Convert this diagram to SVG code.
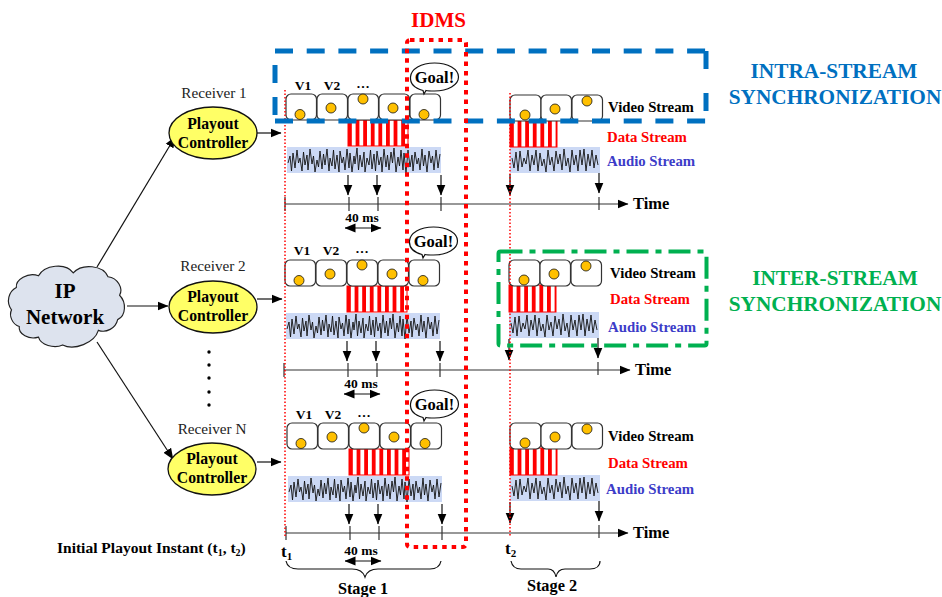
<svg xmlns="http://www.w3.org/2000/svg" xmlns:xlink="http://www.w3.org/1999/xlink" width="942" height="597" viewBox="0 0 942 597">
<style>
text{font-family:"Liberation Serif","Times New Roman",serif;font-weight:bold;fill:#000}
.m{text-anchor:middle}
.reg{font-weight:normal;fill:#222;font-size:15.2px}
.lab{font-size:14.8px}
.v{font-size:13.5px}
.ms{font-size:13.5px}
.pc{font-size:15.7px;text-anchor:middle}
.t{font-size:16.5px}
.s{font-size:16.3px}
.big{font-size:21.3px;text-anchor:middle;fill:#0070c0}
.fr{fill:#fff;stroke:#333;stroke-width:1.2}
.dot{fill:#ffc000;stroke:#111;stroke-width:.8}
.pl{fill:#ffff66;stroke:#111;stroke-width:1.3}
.ln{fill:none;stroke:#111;stroke-width:1.2}
.ax{fill:none;stroke:#333;stroke-width:1.2}
.nz{fill:none;stroke:#111;stroke-width:.9}
.bub{fill:#fff;stroke:#111;stroke-width:1.2}
.au{fill:#ccd9f5}
.ds{stroke:#f00;stroke-width:1}
</style>
<defs>
<pattern id="st" patternUnits="userSpaceOnUse" width="7.6" height="10" x="348" y="0"><rect width="7.6" height="10" fill="#fff"/><rect x="0" width="3.8" height="10" fill="#f00"/></pattern>
<pattern id="st2" patternUnits="userSpaceOnUse" width="7.6" height="10" x="510" y="0"><rect width="7.6" height="10" fill="#fff"/><rect x="0" width="3.8" height="10" fill="#f00"/></pattern>
<marker id="a" markerUnits="userSpaceOnUse" markerWidth="11" markerHeight="10" refX="10.500" refY="5" orient="auto"><path d="M0 .5L11 5L0 9.500z" fill="#000"/></marker>
<marker id="b" markerUnits="userSpaceOnUse" markerWidth="11" markerHeight="10" refX=".5" refY="5" orient="auto"><path d="M11 .5L0 5L11 9.500z" fill="#000"/></marker>
<g id="stage1">
<rect class="au" x="287" y="147" width="154" height="26"/>
<polyline class="nz" points="288,163 290,156 291.500,171 293,153 295,168 297,150 298.500,163 300,158 302,171 303.500,152 305,165 307,155 308,170 310,149 312,164 313.500,156 315,172 317,160 318.500,167 320,151 322,169 323.500,154 325,165 327,149 329,171 330,158 332,166 333.500,150 335,169 337,155 339,172 340,151 342,163 343.500,157 345,170 347,149 349,168 350,153 352,172 354,156 355,164 357,148 358.500,170 360,155 362,167 364,152 365,172 367,158 369,165 370.500,150 372,169 374,154 375.500,171 377,151 379,165 381,157 382,172 384,149 386,167 387.500,155 389,170 391,152 392.500,163 394,148 396,172 398,157 399.500,166 401,150 403,170 404,153 406,173 408,150 410,167 412,155 413,171 415,152 417,164 418.500,158 420,170 422,149 423.500,166 425,155 427,172 429,151 431,163 432.500,156 434,170 436,150 438,168 440,154"/>
<rect class="ds" style="fill:url(#st)" x="348" y="120" width="60" height="26"/>
<rect class="fr" x="286" y="94" width="30.500" height="26" rx="5"/><rect class="fr" x="317" y="94" width="30.500" height="26" rx="5"/><rect class="fr" x="348" y="94" width="30.500" height="26" rx="5"/><rect class="fr" x="379" y="94" width="30.500" height="26" rx="5"/><rect class="fr" x="410" y="94" width="30.500" height="26" rx="5"/>
<circle class="dot" cx="300" cy="114.500" r="5"/><circle class="dot" cx="331" cy="108" r="5"/><circle class="dot" cx="363" cy="99" r="5"/><circle class="dot" cx="393" cy="108" r="5"/><circle class="dot" cx="424" cy="114.500" r="5"/>
<path class="ln" d="M348 175V195" marker-end="url(#a)"/><path class="ln" d="M377 175V195" marker-end="url(#a)"/><path class="ln" d="M441 175V195" marker-end="url(#a)"/>
<path class="ax" d="M285 197V211M349 197V211M378 197V211M441 197V211"/>
</g>
<g id="stage2">
<rect class="au" x="510" y="147" width="90" height="26"/>
<polyline class="nz" points="512,158 514,168 516,152 518,171 520,151 522,167 524,158 526,164 528,150 530,171 532,155 534,165 536,150 538,171 540,153 542,166 544,159 546,172 548,150 550,165 552,157 554,171 556,151 558,164 560,154 562,170 564,149 566,166 568,158 570,172 572,150 574,165 576,155 578,171 580,150 582,165 584,149 586,171 588,154 590,166 592,150 594,168 596,155 598,165"/>
<rect class="ds" x="510" y="120" width="47" height="27" style="fill:url(#st2)"/>
<rect class="fr" x="510" y="95" width="31" height="26" rx="5"/><rect class="fr" x="541" y="95" width="30.500" height="26" rx="5"/><rect class="fr" x="572" y="95" width="30.500" height="26" rx="5"/>
<circle class="dot" cx="525" cy="115" r="5"/><circle class="dot" cx="555" cy="109" r="5"/><circle class="dot" cx="587" cy="101" r="5"/>
<path class="ln" d="M510 174V195" marker-end="url(#a)"/><path class="ln" d="M599 173V193" marker-end="url(#a)"/>
<path class="ax" d="M599 197V210"/>
</g>
<g id="bubble">
<path class="bub" d="M423 90.500C414 88 410 83 410.500 77C411 69 421 63 434.500 63C448 63 458.500 69 458.500 77C458.500 85 448 91 434.500 91C431 91 428 91 426 90.500L424 94z"/>
<text class="m" x="434.500" y="82.500" font-size="16.500">Goal!</text>
</g>
</defs>
<g id="connectors">
<path class="ln" d="M97 267L175 137" marker-end="url(#a)"/>
<path class="ln" d="M127 306H168" marker-end="url(#a)"/>
<path class="ln" d="M97 342L173 459" marker-end="url(#a)"/>
<path class="ln" d="M257 133H281" marker-end="url(#a)"/>
<path class="ln" d="M257 299H282" marker-end="url(#a)"/>
<path class="ln" d="M257 462H281" marker-end="url(#a)"/>
<path class="ax" d="M285 204H628" marker-end="url(#a)"/>
<path class="ax" d="M284 370H630" marker-end="url(#a)"/>
<path class="ax" d="M286 533H628" marker-end="url(#a)"/>
</g>
<g id="row1"><use xlink:href="#stage1"/><use xlink:href="#stage2"/><use xlink:href="#bubble"/>
<text class="m v" x="303" y="90">V1</text><text class="m v" x="332" y="90">V2</text><text class="m v" x="363" y="88">…</text>
<text class="m ms" x="362" y="222">40 ms</text><path class="ln" d="M345 228H381" marker-start="url(#b)" marker-end="url(#a)"/>
<text class="lab" x="608" y="111.500">Video Stream</text><text class="lab" x="607" y="142" style="fill:#f00">Data Stream</text><text class="lab" x="607" y="166" style="fill:#3c3cc8">Audio Stream</text><text class="t" x="633" y="209">Time</text>
</g>
<g id="row2"><use xlink:href="#stage1" transform="translate(-1 166)"/><use xlink:href="#stage2" transform="translate(-1 165)"/><use xlink:href="#bubble" transform="translate(-1 164)"/>
<text class="m v" x="302" y="255">V1</text><text class="m v" x="331" y="255">V2</text><text class="m v" x="362" y="253">…</text>
<text class="m ms" x="361" y="388">40 ms</text><path class="ln" d="M344 394H380" marker-start="url(#b)" marker-end="url(#a)"/>
<text class="lab" x="610" y="278">Video Stream</text><text class="lab" x="610" y="304" style="fill:#f00">Data Stream</text><text class="lab" x="608" y="332" style="fill:#3c3cc8">Audio Stream</text><text class="t" x="635" y="375">Time</text>
</g>
<g id="row3"><use xlink:href="#stage1" transform="translate(1 329)"/><use xlink:href="#stage2" transform="translate(0 328)"/><use xlink:href="#bubble" transform="translate(0 327)"/>
<text class="m v" x="304" y="419">V1</text><text class="m v" x="333" y="419">V2</text><text class="m v" x="364" y="417">…</text>
<text class="m ms" x="361" y="555">40 ms</text><path class="ln" d="M345 561H381" marker-start="url(#b)" marker-end="url(#a)"/>
<text class="lab" x="608" y="441">Video Stream</text><text class="lab" x="608" y="468" style="fill:#f00">Data Stream</text><text class="lab" x="606" y="494" style="fill:#3c3cc8">Audio Stream</text><text class="t" x="633" y="538">Time</text>
</g>
<g id="cloud">
<path transform="translate(67 305) scale(.965 .975) translate(-67.500 -305)" d="M10 310C4 302 7 291 15 287C14 279 27 271 38 275C44 264 66 261 74 272C83 262 105 264 110 276C120 277 126 288 122 295C129 302 129 316 120 320C118 329 108 334 100 331C96 344 75 352 63 346C54 350 40 346 38 338C28 341 17 335 18 327C11 325 7 316 10 310z" fill="#dde3ee" stroke="#222" stroke-width="1.200"/>
<text class="m" x="65" y="298" font-size="21">IP</text><text class="m" x="65" y="324" font-size="21">Network</text>
</g>
<g id="controller1"><ellipse class="pl" cx="213" cy="133" rx="44" ry="26"/><text class="pc" x="213" y="129">Playout</text><text class="pc" x="213" y="148">Controller</text><text class="m reg" x="214" y="98">Receiver 1</text></g>
<g id="controller2"><ellipse class="pl" cx="213" cy="307" rx="44" ry="26"/><text class="pc" x="213" y="302">Playout</text><text class="pc" x="213" y="321">Controller</text><text class="m reg" x="213" y="271">Receiver 2</text></g>
<g id="controllerN"><ellipse class="pl" cx="212" cy="469" rx="44" ry="26"/><text class="pc" x="212" y="464">Playout</text><text class="pc" x="212" y="483">Controller</text><text class="m reg" x="212" y="434">Receiver N</text></g>
<g id="dots" fill="#000"><circle cx="209" cy="352" r="1.700"/><circle cx="209" cy="365" r="1.700"/><circle cx="209" cy="378" r="1.700"/><circle cx="209" cy="392" r="1.700"/><circle cx="209" cy="405" r="1.700"/></g>
<g id="playout-lines" fill="none" stroke="#f00" stroke-width="1.500" stroke-dasharray="1.500 2">
<path d="M285 90V537"/><path d="M510 93V537"/>
</g>
<g id="intra-box">
<path d="M275 51H706M275 121H706M275 65V83M275 97V115M706 51V72M706 93V111" fill="none" stroke="#0070c0" stroke-width="5" stroke-dasharray="18 13.700"/>
<text class="big" x="834" y="78">INTRA-STREAM</text><text class="big" x="835" y="104">SYNCHRONIZATION</text>
</g>
<g id="idms-box">
<rect x="407" y="40" width="59" height="507" rx="3" fill="none" stroke="#f00" stroke-width="4" stroke-dasharray="4.500 5"/>
<text class="m" x="438.500" y="27" font-size="21" style="fill:#f00">IDMS</text>
</g>
<g id="inter-box">
<rect x="498.500" y="251.500" width="208" height="94" rx="2" fill="none" stroke="#00b050" stroke-width="4" stroke-dasharray="22 7 6 7"/>
<text class="big" x="835" y="285" style="fill:#00b050">INTER-STREAM</text><text class="big" x="835" y="311" style="fill:#00b050">SYNCHRONIZATION</text>
</g>
<g id="footer">
<text x="57" y="553" font-size="15.500">Initial Playout Instant (t<tspan font-size="10" dy="3">1</tspan><tspan dy="-3">, t</tspan><tspan font-size="10" dy="3">2</tspan><tspan dy="-3">)</tspan></text>
<text x="281" y="557" font-size="17">t<tspan font-size="11" dy="3">1</tspan></text>
<text x="505" y="554" font-size="17">t<tspan font-size="11" dy="3">2</tspan></text>
<path class="ln" d="M286 561C287 566 291 569 298 569H352C358 569 363 571 365 577C367 571 372 569 378 569H430C436 569 440 566 441 561"/>
<path class="ln" d="M511 561C512 566 515 569 521 569H548C553 569 555 572 556 577C557 572 560 569 565 569H590C596 569 600 566 600 561"/>
<text class="m s" x="363" y="594">Stage 1</text>
<text class="m s" x="552" y="591">Stage 2</text>
</g>
</svg>
